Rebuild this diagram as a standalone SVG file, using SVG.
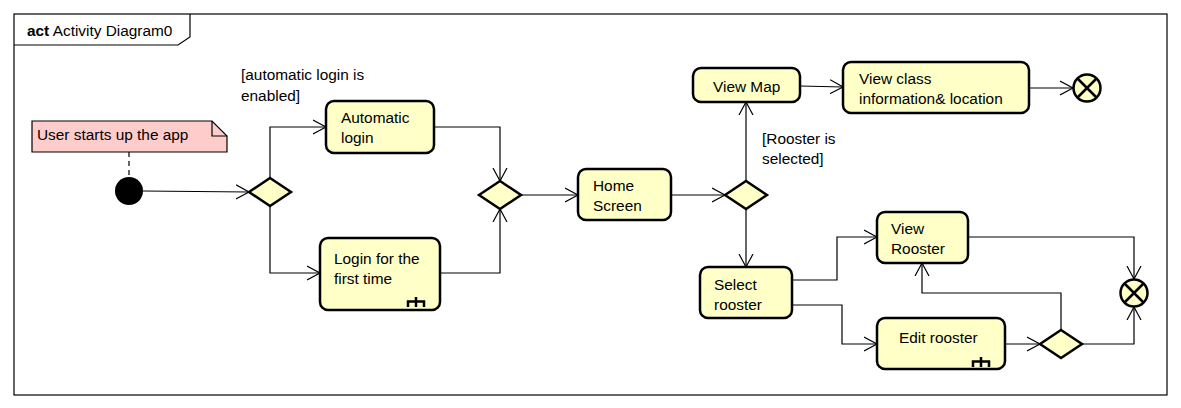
<svg xmlns="http://www.w3.org/2000/svg" width="1181" height="408" viewBox="0 0 1181 408">
<defs>
<marker id="arr" markerUnits="userSpaceOnUse" markerWidth="16" markerHeight="18" refX="13" refY="8" orient="auto">
<path d="M0,1 L13,8 L0,15" fill="none" stroke="#000" stroke-width="1.2"/>
</marker>
<g id="rake"><path d="M1,10 V4.5 H17 V10 M9,0 V10" fill="none" stroke="#000" stroke-width="2.5"/></g>
</defs>
<style>
text{font-family:"Liberation Sans",Arial,sans-serif;font-size:15.4px;fill:#000}
.box{fill:#ffffc8;stroke:#000;stroke-width:2.5}
.con{fill:none;stroke:#000;stroke-width:1.2;marker-end:url(#arr)}
.lin{fill:none;stroke:#000;stroke-width:1.2}
</style>
<rect width="1181" height="408" fill="#fff"/>
<g id="frame">
<rect x="14" y="14" width="1153" height="381" fill="none" stroke="#000" stroke-width="1.2"/>
<path d="M14,45 H178 L190,37 V14" fill="none" stroke="#000" stroke-width="1.2"/>
<text x="27" y="36"><tspan font-weight="bold">act</tspan> Activity Diagram0</text>
</g>
<g id="connectors">
<path class="lin" d="M129,152 V178" stroke-dasharray="5,4"/>
<path class="con" d="M143,191 L249,192"/>
<path class="con" d="M270,178 V127 H326"/>
<path class="con" d="M270,206 V273 H320"/>
<path class="con" d="M434,127 H500 V181"/>
<path class="con" d="M440,273 H500 V209"/>
<path class="con" d="M521,195 H578"/>
<path class="con" d="M671,195 H725"/>
<path class="con" d="M746,181 V102"/>
<path class="con" d="M800,86 L843,87"/>
<path class="con" d="M1029,88 H1073"/>
<path class="con" d="M746,209 V267"/>
<path class="con" d="M792,280 H837 V237 H877"/>
<path class="con" d="M792,305 H842 V344 H877"/>
<path class="con" d="M1005,344 H1040"/>
<path class="con" d="M1061,330 V293 H922 V263"/>
<path class="con" d="M1082,344 H1134 V307"/>
<path class="con" d="M968,237 H1134 V279"/>
</g>
<g id="note">
<path d="M32,121 H212 L227,136 V152 H32 Z" fill="#ffcccc" stroke="#000" stroke-width="1.2"/>
<path d="M212,121 V136 H227" fill="none" stroke="#000" stroke-width="1.2"/>
<text x="37" y="140">User starts up the app</text>
</g>
<g id="initial"><circle cx="129" cy="191" r="14" fill="#000"/></g>
<g id="decision1"><path class="box" d="M249,192 L270,178 L291,192 L270,206 Z"/></g>
<g id="guard1"><text x="241" y="80">[automatic login is</text><text x="241" y="101">enabled]</text></g>
<g id="autologin"><rect class="box" x="326" y="101" width="108" height="52" rx="8"/><text x="341" y="123">Automatic</text><text x="341" y="143">login</text></g>
<g id="firstlogin"><rect class="box" x="320" y="238" width="120" height="72" rx="8"/><text x="334" y="264">Login for the</text><text x="334" y="284">first time</text><use href="#rake" x="407" y="297"/></g>
<g id="merge1"><path class="box" d="M479,195 L500,181 L521,195 L500,209 Z"/></g>
<g id="home"><rect class="box" x="578" y="169" width="93" height="51" rx="8"/><text x="593" y="191">Home</text><text x="593" y="211">Screen</text></g>
<g id="decision2"><path class="box" d="M725,195 L746,181 L767,195 L746,209 Z"/></g>
<g id="guard2"><text x="762" y="144">[Rooster is</text><text x="762" y="164">selected]</text></g>
<g id="viewmap"><rect class="box" x="693" y="68" width="107" height="34" rx="8"/><text x="713" y="92">View Map</text></g>
<g id="viewclass"><rect class="box" x="843" y="62" width="186" height="51" rx="8"/><text x="859" y="84">View class</text><text x="859" y="104">information&amp; location</text></g>
<g id="final1"><circle class="box" cx="1087" cy="88" r="13.5"/><path d="M1077.5,78.5 L1096.5,97.5 M1096.5,78.5 L1077.5,97.5" stroke="#000" stroke-width="2.5"/></g>
<g id="selectrooster"><rect class="box" x="700" y="267" width="92" height="51" rx="8"/><text x="714" y="290">Select</text><text x="714" y="310">rooster</text></g>
<g id="viewrooster"><rect class="box" x="877" y="212" width="91" height="51" rx="8"/><text x="891" y="234">View</text><text x="891" y="254">Rooster</text></g>
<g id="editrooster"><rect class="box" x="877" y="318" width="128" height="51" rx="8"/><text x="899" y="343">Edit rooster</text><use href="#rake" x="972" y="357"/></g>
<g id="decision3"><path class="box" d="M1040,344 L1061,330 L1082,344 L1061,358 Z"/></g>
<g id="final2"><circle class="box" cx="1134" cy="293" r="13.5"/><path d="M1124.5,283.5 L1143.5,302.5 M1143.5,283.5 L1124.5,302.5" stroke="#000" stroke-width="2.5"/></g>
</svg>
